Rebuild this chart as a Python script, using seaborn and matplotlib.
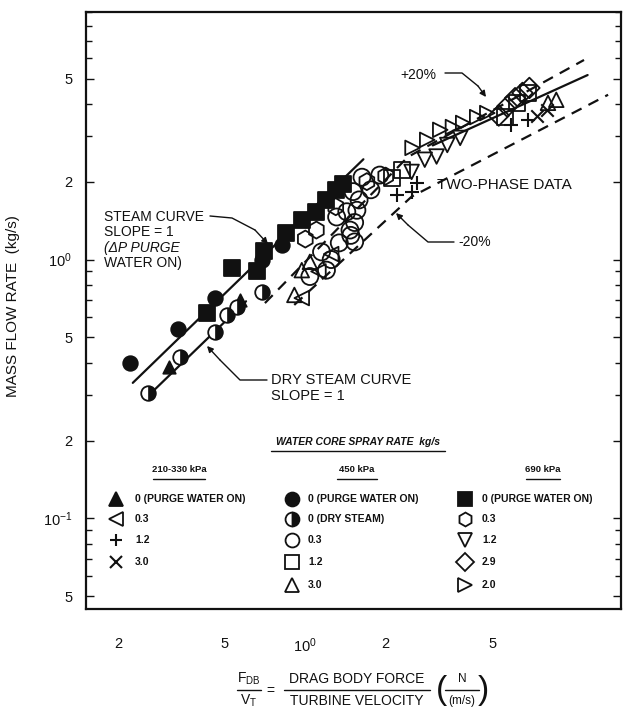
import numpy as np
import pandas as pd
import seaborn as sns
import matplotlib.pyplot as plt
from matplotlib.lines import Line2D
from matplotlib.markers import MarkerStyle
from matplotlib.ticker import LogLocator, NullFormatter, NullLocator

sns.set_theme(style="white")
plt.rcParams["font.family"] = ["Liberation Sans", "DejaVu Sans"]
plt.rcParams["mathtext.fontset"] = "custom"
plt.rcParams["mathtext.rm"] = "Liberation Sans"
plt.rcParams["mathtext.it"] = "Liberation Sans:italic"
plt.rcParams["mathtext.bf"] = "Liberation Sans:bold"

# ---- measured points: drag-body force / turbine velocity vs mass flow ----
# 210-330 kPa
p210_purge_x = [0.309, 0.569]
p210_purge_y = [0.385, 0.698]
p210_03_x = [0.97, 1.12, 1.25]
p210_03_y = [0.71, 0.90, 1.05]
p210_12_x = [2.2, 2.5, 2.62, 5.9, 6.8]
p210_12_y = [1.78, 1.82, 1.98, 3.31, 3.46]
p210_30_x = [7.4, 8.0]
p210_30_y = [3.6, 3.78]

# 450 kPa
p450_purge_x = [0.221, 0.334, 0.459, 0.69, 0.82]
p450_purge_y = [0.40, 0.54, 0.71, 1.00, 1.14]
p450_dry_x = [0.258, 0.340, 0.459, 0.509, 0.555, 0.688]
p450_dry_y = [0.306, 0.421, 0.525, 0.611, 0.656, 0.75]
p450_03_x = [1.43, 1.53, 1.48, 1.53, 1.59, 1.76, 1.34, 1.15, 1.20, 1.04,
             1.63, 1.90, 1.51, 1.56, 1.47, 1.31, 1.25]
p450_03_y = [1.53, 1.39, 1.24, 1.17, 1.70, 1.86, 1.16, 1.07, 0.91, 0.86,
             2.08, 2.12, 1.83, 1.55, 1.30, 1.46, 1.00]
p450_12_x = [2.11, 2.30, 5.58, 6.2, 6.8]
p450_12_y = [2.07, 2.22, 3.55, 4.02, 4.40]
p450_30_x = [0.97, 0.91, 1.04, 8.1, 8.7]
p450_30_y = [0.91, 0.73, 0.98, 4.03, 4.14]

# 690 kPa
p690_purge_x = [0.43, 0.53, 0.66, 0.70, 0.85, 0.97, 1.10, 1.20, 1.30, 1.38]
p690_purge_y = [0.62, 0.93, 0.90, 1.08, 1.27, 1.42, 1.52, 1.70, 1.85, 1.95]
p690_03_x = [1.0, 1.1, 1.3, 1.7, 2.0]
p690_03_y = [1.2, 1.3, 1.6, 2.0, 2.1]
p690_12_x = [2.5, 2.8, 3.1, 3.4, 3.8]
p690_12_y = [2.18, 2.43, 2.50, 2.77, 2.95]
p690_29_x = [5.3, 5.7, 6.1, 6.5, 6.9]
p690_29_y = [3.6, 3.9, 4.2, 4.4, 4.6]
p690_20_x = [2.52, 2.86, 3.2, 3.57, 3.9, 4.4, 4.8]
p690_20_y = [2.70, 2.90, 3.17, 3.25, 3.37, 3.55, 3.68]

# ---- correlation curves ----
steam_x = [0.226, 1.65]
steam_y = [0.334, 2.44]
dry_x = [0.255, 0.60]
dry_y = [0.294, 0.69]
twophase_x = [3.0, 11.4]
twophase_y = [2.76, 5.16]
upper_x = [0.706, 2.42, 11.05]
upper_y = [0.679, 2.49, 5.90]
lower_x = [0.909, 2.5, 13.6]
lower_y = [0.668, 1.75, 4.33]

# ---- axis ticks ----
xticks = [0.2, 0.5, 1, 2, 5]
xticklabels = ["2", "5", "$10^0$", "2", "5"]
yticks = [0.05, 0.1, 0.2, 0.5, 1, 2, 5]
yticklabels = ["5", "$10^{-1}$", "2", "5", "$10^0$", "2", "5"]

W, H = 632, 711
fig = plt.figure(figsize=(W / 100, H / 100), dpi=100)
ax = fig.add_axes([86 / W, 1 - 609 / H, (621 - 86) / W, (609 - 12) / H])
ax.set_xscale("log")
ax.set_yscale("log")


def fx(px):
    return px / W


def fy(py):
    return 1 - py / H


INK = "#111111"


def pts(xs, ys):
    return pd.DataFrame({"x": xs, "y": ys})


def draw(xs, ys, marker, filled, s=110, lw=1.3):
    df = pts(xs, ys)
    if marker in ("+", "x"):
        sns.scatterplot(data=df, x="x", y="y", marker=marker, s=s, color=INK,
                        linewidth=lw, ax=ax, legend=False, zorder=4)
    elif filled:
        sns.scatterplot(data=df, x="x", y="y", marker=marker, s=s, color=INK,
                        edgecolor=INK, linewidth=lw, ax=ax, legend=False, zorder=4)
    else:
        sns.scatterplot(data=df, x="x", y="y", marker=marker, s=s, color="none",
                        edgecolor=INK, linewidth=lw, ax=ax, legend=False, zorder=4)


def curve(xs, ys, dashed):
    sns.lineplot(x=xs, y=ys, color=INK, lw=1.6, ax=ax, estimator=None,
                 sort=False, legend=False, zorder=3)
    if dashed:
        ax.lines[-1].set_dashes((5, 3.5))


curve(steam_x, steam_y, False)
curve(dry_x, dry_y, False)
curve(twophase_x, twophase_y, False)
curve(upper_x, upper_y, True)
curve(lower_x, lower_y, True)

# data series
draw(p210_purge_x, p210_purge_y, "^", True, s=80)
draw(p210_03_x, p210_03_y, "<", False)
draw(p210_12_x, p210_12_y, "+", False, s=110, lw=1.5)
draw(p210_30_x, p210_30_y, "x", False, s=80, lw=1.5)
draw(p450_purge_x, p450_purge_y, "o", True, s=110)
# dry steam: open circle with right half filled
sns.scatterplot(data=pts(p450_dry_x, p450_dry_y), x="x", y="y", marker="o", s=110,
                color="white", edgecolor=INK, linewidth=1.3, ax=ax, legend=False, zorder=4)
sns.scatterplot(data=pts(p450_dry_x, p450_dry_y), x="x", y="y",
                marker=MarkerStyle("o", fillstyle="right"), s=110, color=INK,
                edgecolor=INK, linewidth=0.5, ax=ax, legend=False, zorder=5)
draw(p450_03_x, p450_03_y, "o", False, s=150)
draw(p450_12_x, p450_12_y, "s", False, s=130)
draw(p450_30_x, p450_30_y, "^", False, s=110)
draw(p690_purge_x, p690_purge_y, "s", True, s=120)
draw(p690_03_x, p690_03_y, "h", False, s=150)
draw(p690_12_x, p690_12_y, "v", False, s=110)
draw(p690_29_x, p690_29_y, "D", False, s=110)
draw(p690_20_x, p690_20_y, ">", False, s=110)

ax.set_xlim(0.151, 15.2)
ax.set_ylim(0.0447, 9.04)

# ticks
ax.set_xticks(xticks)
ax.set_xticklabels(xticklabels)
ax.xaxis.set_minor_locator(NullLocator())
ax.set_yticks(yticks)
ax.set_yticklabels(yticklabels)
ax.yaxis.set_minor_locator(LogLocator(base=10, subs=(3, 4, 6, 7, 8, 9)))
ax.yaxis.set_minor_formatter(NullFormatter())
ax.tick_params(axis="both", which="both", direction="in", colors=INK, labelcolor=INK)
ax.tick_params(axis="x", which="major", length=6, width=1.0, labelsize=10.5, pad=20)
ax.tick_params(axis="y", which="major", length=6, width=1.0, labelsize=10.5, pad=10,
               right=True, left=True)
ax.tick_params(axis="y", which="minor", length=4, width=1.0, right=True, left=True)
for sp in ax.spines.values():
    sp.set_color(INK)
    sp.set_linewidth(1.6)
ax.set_xlabel("")
ax.set_ylabel("")
ax.grid(False)

# y title
fig.text(fx(13), fy(306), "MASS FLOW RATE  (kg/s)", rotation=90, ha="center",
         va="center", fontsize=11, color=INK)


# x title built as stacked fractions
def frac(cx, num, den, half, size, num_y=679, bar_y=690, den_y=701):
    fig.text(fx(cx), fy(num_y), num, ha="center", va="center", fontsize=size, color=INK)
    fig.text(fx(cx), fy(den_y), den, ha="center", va="center", fontsize=size, color=INK)
    fig.add_artist(Line2D([fx(cx - half), fx(cx + half)], [fy(bar_y), fy(bar_y)],
                          color=INK, lw=1.0))


frac(249, r"F$_{\mathrm{DB}}$", r"V$_{\mathrm{T}}$", 12, 10)
fig.text(fx(270), fy(691), "=", ha="center", va="center", fontsize=10, color=INK)
frac(357, "DRAG BODY FORCE", "TURBINE VELOCITY", 73, 10)
frac(462, "N", "(m/s)", 17, 8.5)
fig.text(fx(442), fy(690), "(", ha="center", va="center", fontsize=24,
         color=INK, fontweight="light")
fig.text(fx(483), fy(690), ")", ha="center", va="center", fontsize=24,
         color=INK, fontweight="light")


# annotations with leader lines
def leader(points, tip):
    xs = [fx(p[0]) for p in points]
    ys = [fy(p[1]) for p in points]
    fig.add_artist(Line2D(xs, ys, color=INK, lw=1.0))
    ax.annotate("", xy=(fx(tip[0]), fy(tip[1])), xycoords="figure fraction",
                xytext=(xs[-1], ys[-1]), textcoords="figure fraction",
                arrowprops=dict(arrowstyle="-|>", color=INK, lw=1.0,
                                mutation_scale=9, shrinkA=0, shrinkB=0))


for i, t in enumerate(["STEAM CURVE", "SLOPE = 1", "(\u0394P PURGE", "WATER ON)"]):
    fig.text(fx(104), fy(217 + 15.5 * i), t, fontsize=10, ha="left", va="center",
             color=INK, style="italic" if i == 2 else "normal")
leader([(210, 216), (232, 218), (255, 230)], (268, 244))

fig.text(fx(271), fy(380), "DRY STEAM CURVE", fontsize=10.5, ha="left", va="center", color=INK)
fig.text(fx(271), fy(396), "SLOPE = 1", fontsize=10.5, ha="left", va="center", color=INK)
leader([(267, 380), (240, 380), (220, 360)], (207, 346))

fig.text(fx(400), fy(75), "+20%", fontsize=10, ha="left", va="center", color=INK)
leader([(445, 73), (462, 73), (478, 86)], (486, 97))
fig.text(fx(458), fy(242), "-20%", fontsize=10, ha="left", va="center", color=INK)
leader([(454, 242), (428, 242), (408, 225)], (396, 213))
fig.text(fx(437), fy(185), "TWO-PHASE DATA", fontsize=11, ha="left", va="center", color=INK)

# key for symbols
fig.text(fx(358), fy(442), "WATER CORE SPRAY RATE  kg/s", fontsize=7.5, style="italic",
         weight="bold", ha="center", va="center", color=INK)
fig.add_artist(Line2D([fx(271), fx(445)], [fy(451), fy(451)], color=INK, lw=1.0))
for cx, t, half in [(179, "210-330 kPa", 26), (357, "450 kPa", 20), (543, "690 kPa", 17)]:
    fig.text(fx(cx), fy(470), t, fontsize=6.8, weight="bold", ha="center", va="center",
             color=INK)
    fig.add_artist(Line2D([fx(cx - half), fx(cx + half)], [fy(479), fy(479)], color=INK, lw=1.0))

rows = [499, 519, 540, 562, 585]
key = [
    (116, 135, [("^", True, "0 (PURGE WATER ON)"), ("<", False, "0.3"), ("+", False, "1.2"),
                ("x", False, "3.0")]),
    (292, 308, [("o", True, "0 (PURGE WATER ON)"), ("half", False, "0 (DRY STEAM)"),
                ("o", False, "0.3"), ("s", False, "1.2"), ("^", False, "3.0")]),
    (465, 482, [("s", True, "0 (PURGE WATER ON)"), ("h", False, "0.3"), ("v", False, "1.2"),
                ("D", False, "2.9"), (">", False, "2.0")]),
]
for sx, tx, entries in key:
    for (mk, filled, label), ry in zip(entries, rows):
        if mk == "half":
            ax.plot([fx(sx)], [fy(ry)], marker="o", ms=10, fillstyle="right",
                    markerfacecolor=INK, markerfacecoloralt="white", markeredgecolor=INK,
                    mew=1.3, transform=fig.transFigure, clip_on=False)
        elif mk in ("+", "x"):
            ax.plot([fx(sx)], [fy(ry)], marker=mk, ms=9, color=INK, mew=1.5,
                    transform=fig.transFigure, clip_on=False)
        else:
            ax.plot([fx(sx)], [fy(ry)], marker=mk, ms=10 if mk != "D" else 9,
                    markerfacecolor=INK if filled else "white", markeredgecolor=INK,
                    mew=1.3, transform=fig.transFigure, clip_on=False)
        fig.text(fx(tx), fy(ry), label, fontsize=7.5, weight="bold", ha="left",
                 va="center", color=INK)

fig.savefig("out.png", dpi=100, facecolor="white")
